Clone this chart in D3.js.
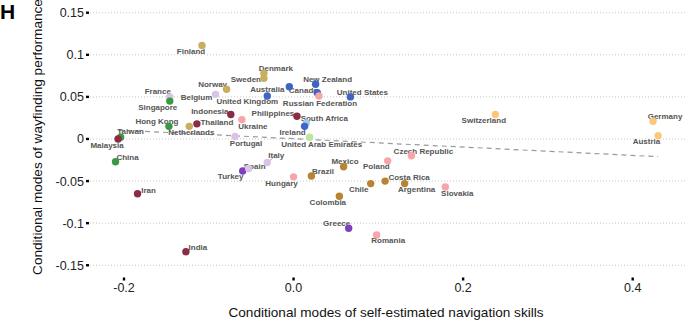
<!DOCTYPE html>
<html lang="en">
<head>
    <meta charset="UTF-8">
    <title>panel H</title>
</head>
<style>
    body { margin: 0; background: #fff; }
    svg { display: block; font-family: "Liberation Sans", Arial, sans-serif; }
    .grid line { stroke: #c8c8c8; stroke-dasharray: 1 2; stroke-width: 1; }
    .tick-label { font-size: 12.5px; fill: #222; }
    .axis-title { font-size: 13.6px; fill: #111; }
    .lab { font-size: 8px; font-weight: bold; fill: #555; }
</style>
<body>
<svg class="chart"></svg>
<script src="https://cdn.jsdelivr.net/npm/d3@7"></script>
<script>
    // data
    var countries = ["Finland","France","Singapore","Norway","Belgium","United Kingdom","Indonesia","Thailand",
        "Ukraine","Hong Kong","Netherlands","Taiwan","Malaysia","Portugal","China","Iran","India","Turkey",
        "Denmark","Sweden","Australia","New Zealand","Canada","Russian Federation","United States","Philippines",
        "South Africa","Ireland","United Arab Emirates","Italy","Spain","Hungary","Brazil","Mexico","Colombia",
        "Poland","Czech Republic","Chile","Costa Rica","Argentina","Slovakia","Greece","Romania","Switzerland",
        "Germany","Austria"];
    var skillModes = [-0.108,-0.146,-0.146,-0.079,-0.092,-0.031,-0.074,-0.114,
        -0.061,-0.147,-0.123,-0.204,-0.207,-0.069,-0.210,-0.184,-0.127,-0.060,
        -0.035,-0.035,-0.005,0.026,0.028,0.030,0.067,0.004,
        0.015,0.013,0.019,-0.031,-0.053,0.000,0.021,0.059,0.054,
        0.111,0.139,0.091,0.108,0.131,0.179,0.065,0.098,0.238,
        0.424,0.430];
    var wayfindingModes = [0.111,0.050,0.045,0.059,0.053,0.051,0.029,0.018,
        0.023,0.015,0.015,0.002,0.000,0.003,-0.027,-0.065,-0.134,-0.038,
        0.078,0.072,0.062,0.065,0.055,0.051,0.050,0.027,
        0.019,0.015,0.002,-0.028,-0.035,-0.045,-0.044,-0.033,-0.068,
        -0.026,-0.020,-0.053,-0.050,-0.053,-0.057,-0.106,-0.114,0.029,
        0.021,0.004];
    var regions = ["north","west","eastasia","north","west","anglo","asia","asia",
        "east","eastasia","north","eastasia","asia","west","eastasia","asia","asia","med",
        "north","north","anglo","anglo","anglo","east","anglo","asia",
        "africa","anglo","gulf","west","west","east","latin","latin","latin",
        "east","east","latin","latin","latin","east","med","east","german",
        "german","german"];
    var xTicks = [-0.2, 0.0, 0.2, 0.4];
    var xTickLabels = ["-0.2", "0.0", "0.2", "0.4"];
    var yTicks = [0.15, 0.1, 0.05, 0, -0.05, -0.1, -0.15];
    var yTickLabels = ["0.15", "0.1", "0.05", "0", "-0.05", "-0.1", "-0.15"];
    var trendX = [-0.207, 0.430];
    var trendY = [0.0106, -0.0210];

    var regionColor = {
        north: "#c9ae5d", west: "#d9c3e6", anglo: "#3f64c4", east: "#f8a5aa",
        latin: "#b8842f", asia: "#8b2c46", eastasia: "#3a9a44", med: "#7f3fbf",
        africa: "#9ec9ea", gulf: "#bde59b", german: "#fdc77b"
    };

    // where ggrepel put each label, relative to its point (px)
    var labelOffset = {
        "Finland":[-11,6], "France":[-12,-6], "Singapore":[-12,6], "Norway":[-14,-5], "Belgium":[-19,3],
        "United Kingdom":[-20,5], "Indonesia":[-21,-3], "Thailand":[20,-2], "Ukraine":[11,7],
        "Hong Kong":[-12,-5], "Netherlands":[2,6], "Taiwan":[10,-6], "Malaysia":[-11,6],
        "Portugal":[11,7], "China":[12,-5], "Iran":[11,-4], "India":[12,-5], "Turkey":[-12,5.5],
        "Denmark":[12,-5], "Sweden":[-18,1], "Australia":[-22,2.6], "New Zealand":[12,-5],
        "Canada":[-14,-2.4], "Russian Federation":[1,7.6], "United States":[12,-5], "Philippines":[-24,-3],
        "South Africa":[18,-5], "Ireland":[-12,6], "United Arab Emirates":[12,6.4], "Italy":[9,-7],
        "Spain":[6,-2.6], "Hungary":[-12,6.3], "Brazil":[11.6,-5], "Mexico":[1.4,-5.7],
        "Colombia":[-11.5,6], "Poland":[-11.3,5.6], "Czech Republic":[12,-5], "Chile":[-12,6],
        "Costa Rica":[24,-4], "Argentina":[12,6], "Slovakia":[12,6.6], "Greece":[-12,-5],
        "Romania":[11.6,5.7], "Switzerland":[-11.5,5.7], "Germany":[12,-5.3], "Austria":[-11.7,6]
    };
    var withSegment = ["Italy"];

    var W = 685, H = 320;
    var svg = d3.select('.chart').attr('width', W).attr('height', H);

    var x = d3.scaleLinear().domain([-0.2401, 0.4617]).range([90, 685]);
    var y = d3.scaleLinear().domain([-0.1687, 0.1651]).range([281, 0]);

    var points = countries.map(function (c, i) {
        return {name: c, x: skillModes[i], y: wayfindingModes[i], region: regions[i]};
    });

    // horizontal dotted grid
    svg.append("g").attr("class", "grid")
        .selectAll("line").data(yTicks).enter().append("line")
        .attr("x1", x.range()[0]).attr("x2", x.range()[1])
        .attr("y1", function (d) { return y(d); })
        .attr("y2", function (d) { return y(d); });

    // y axis: little square ticks + labels
    var yg = svg.append("g");
    yg.selectAll("rect").data(yTicks).enter().append("rect")
        .attr("x", 86).attr("y", function (d) { return y(d) - 1.2; })
        .attr("width", 3).attr("height", 2.4).attr("fill", "#000");
    yg.selectAll("text").data(yTicks).enter().append("text")
        .attr("class", "tick-label")
        .attr("x", 84).attr("y", function (d) { return y(d); })
        .attr("dy", "0.36em").attr("text-anchor", "end")
        .text(function (d, i) { return yTickLabels[i]; });

    // x axis
    var xg = svg.append("g");
    xg.selectAll("rect").data(xTicks).enter().append("rect")
        .attr("x", function (d) { return x(d) - 1.2; }).attr("y", 277.5)
        .attr("width", 2.4).attr("height", 3).attr("fill", "#000");
    xg.selectAll("text").data(xTicks).enter().append("text")
        .attr("class", "tick-label")
        .attr("x", function (d) { return x(d); }).attr("y", 292)
        .attr("text-anchor", "middle")
        .text(function (d, i) { return xTickLabels[i]; });

    // titles
    svg.append("text").attr("class", "axis-title")
        .attr("x", 386).attr("y", 317).attr("text-anchor", "middle")
        .text("Conditional modes of self-estimated navigation skills");
    svg.append("text").attr("class", "axis-title")
        .attr("transform", "translate(42,137) rotate(-90)")
        .attr("text-anchor", "middle")
        .text("Conditional modes of wayfinding performance");
    svg.append("text")
        .attr("x", 0).attr("y", 19)
        .style("font-size", "21px").style("font-weight", "bold")
        .text("H");

    // trend line
    var line = d3.line().x(function (d) { return x(d[0]); }).y(function (d) { return y(d[1]); });
    svg.append("path")
        .datum(trendX.map(function (v, i) { return [v, trendY[i]]; }))
        .attr("d", line)
        .attr("fill", "none").attr("stroke", "#9a9a9a")
        .attr("stroke-width", 1.2).attr("stroke-dasharray", "5 4");

    // label segments
    svg.append("g").selectAll("line")
        .data(points.filter(function (d) { return withSegment.indexOf(d.name) >= 0; }))
        .enter().append("line")
        .attr("x1", function (d) { return x(d.x); })
        .attr("y1", function (d) { return y(d.y); })
        .attr("x2", function (d) { return x(d.x) + labelOffset[d.name][0] * 0.6; })
        .attr("y2", function (d) { return y(d.y) + labelOffset[d.name][1] * 0.6; })
        .attr("stroke", "#777").attr("stroke-width", 0.6);

    // labels
    svg.append("g").selectAll("text").data(points).enter().append("text")
        .attr("class", "lab")
        .attr("x", function (d) { return x(d.x) + labelOffset[d.name][0]; })
        .attr("y", function (d) { return y(d.y) + labelOffset[d.name][1]; })
        .attr("dy", "0.35em").attr("text-anchor", "middle")
        .text(function (d) { return d.name; });

    // points
    svg.append("g").selectAll("circle").data(points).enter().append("circle")
        .attr("cx", function (d) { return x(d.x); })
        .attr("cy", function (d) { return y(d.y); })
        .attr("r", 3.7)
        .attr("fill", function (d) { return regionColor[d.region]; });
</script>
</body>
</html>
